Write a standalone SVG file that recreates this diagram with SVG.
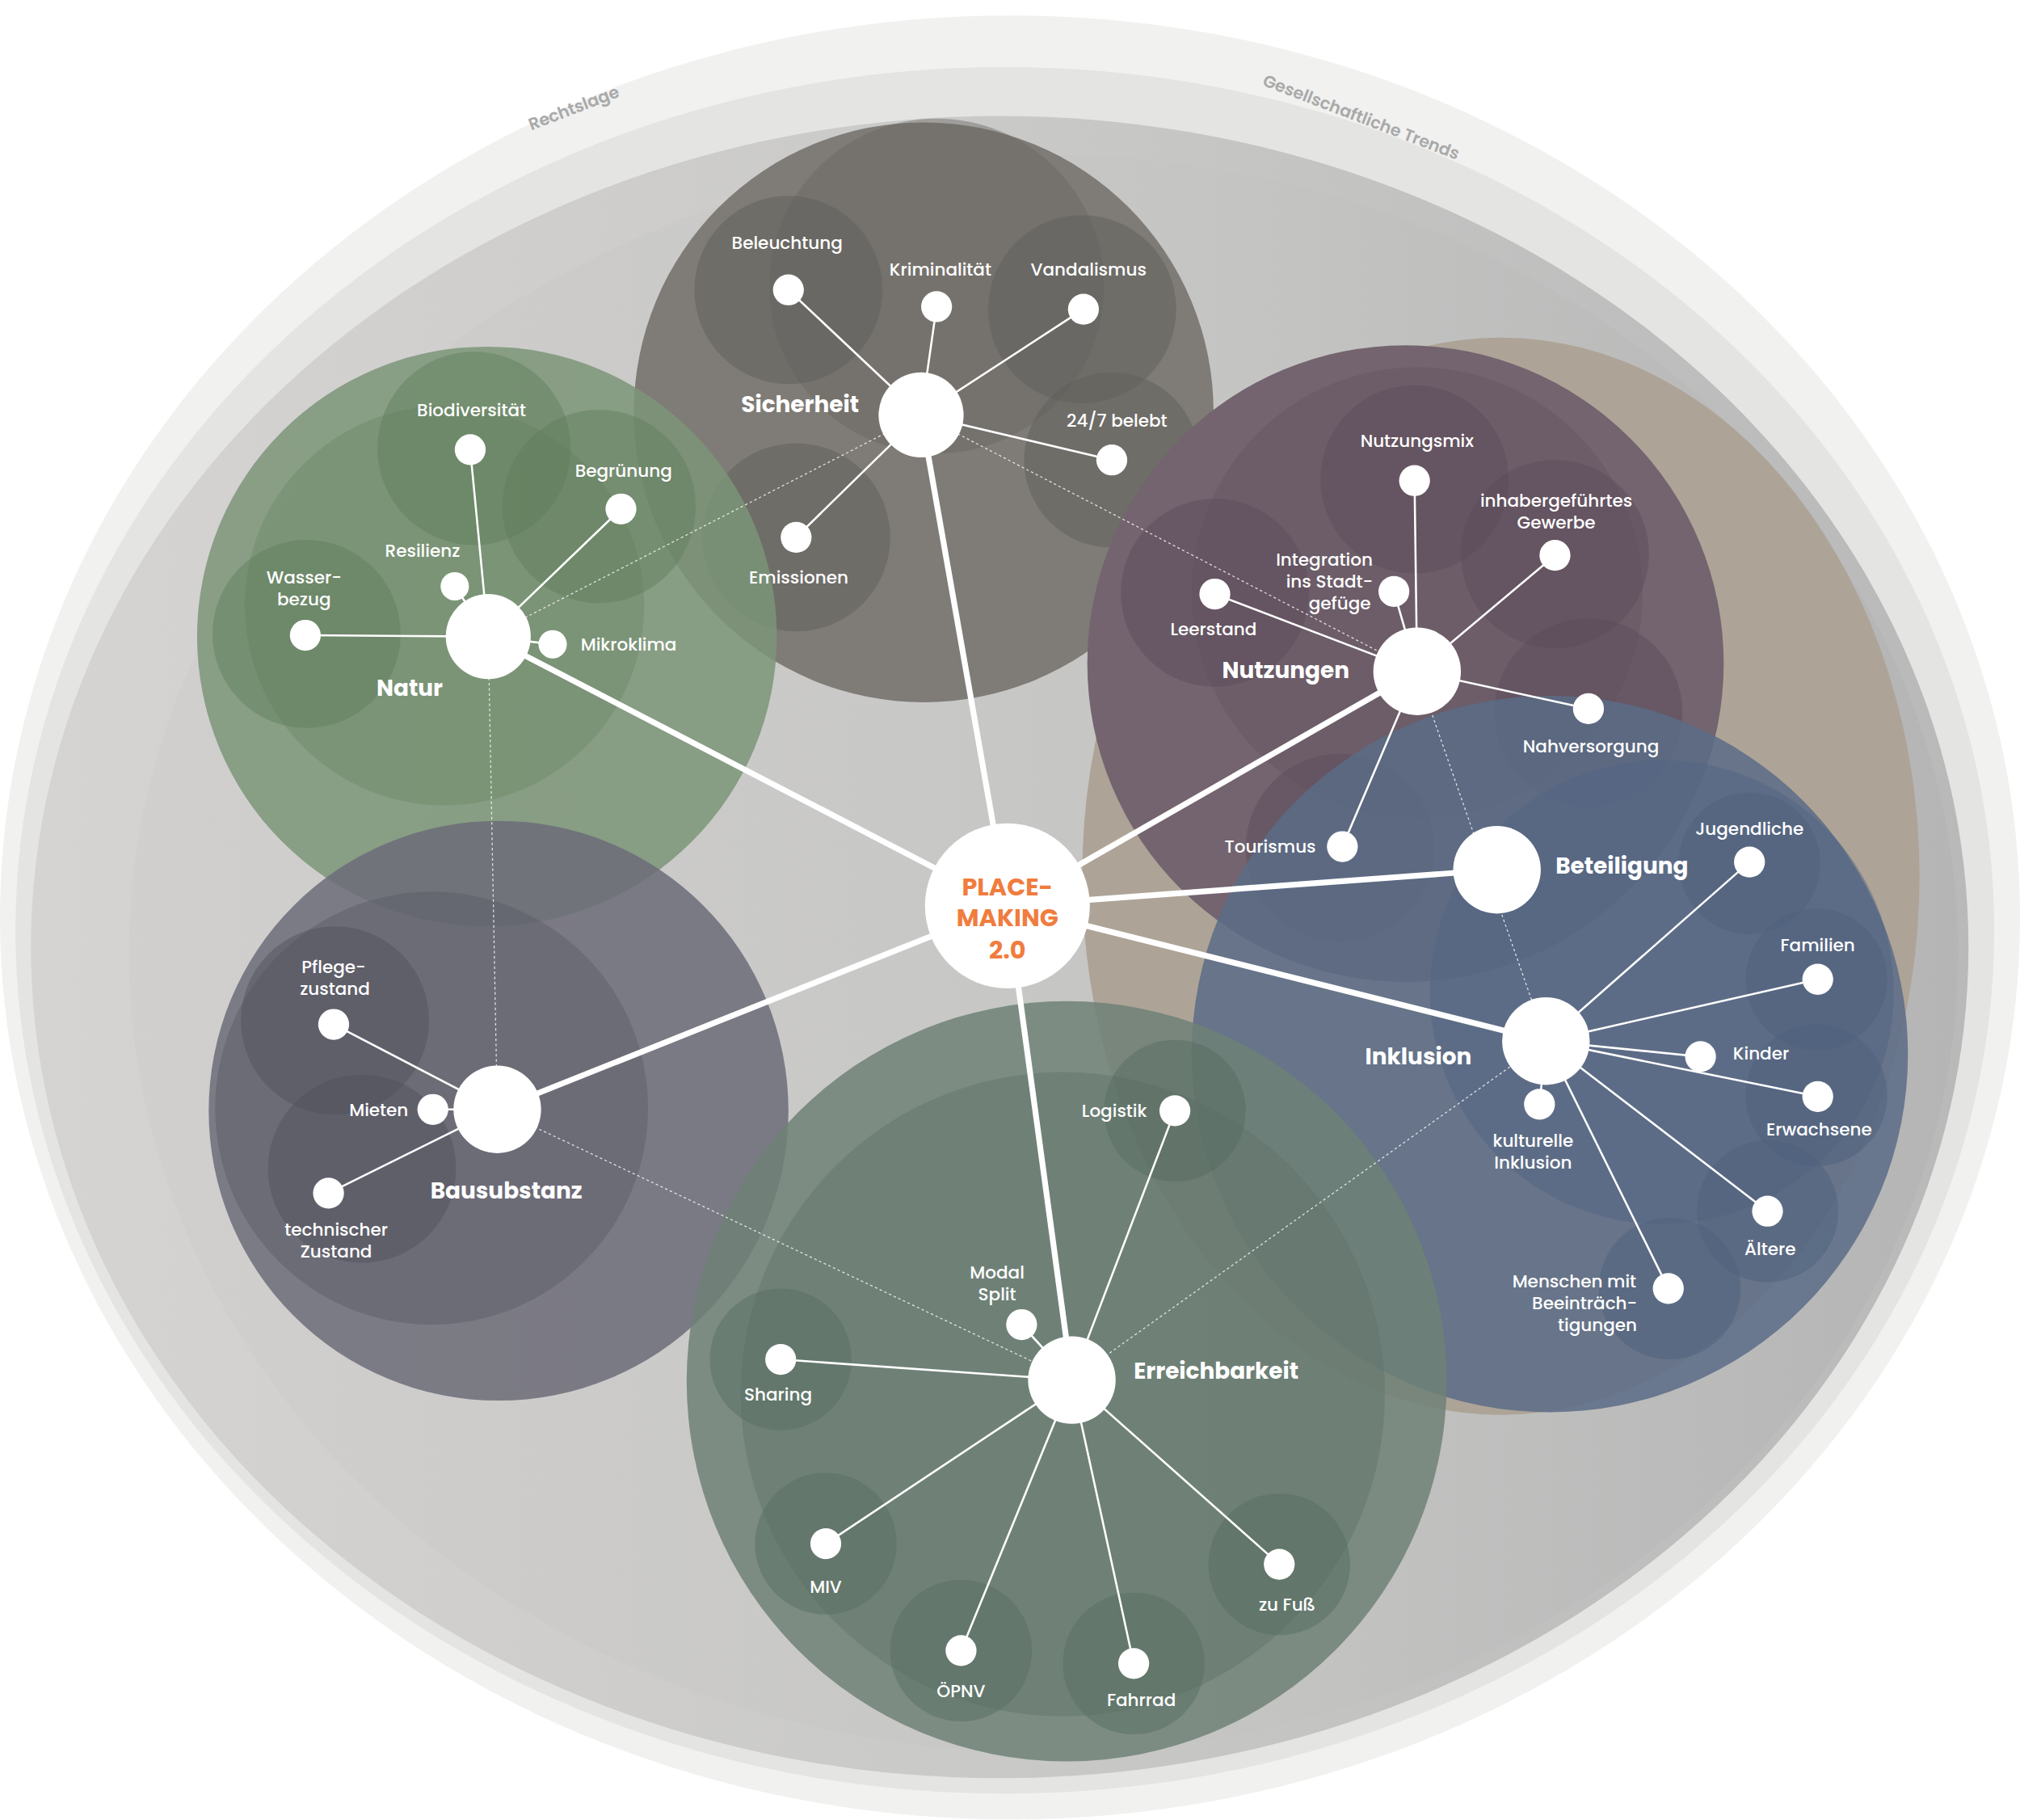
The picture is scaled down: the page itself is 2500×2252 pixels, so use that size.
<svg xmlns="http://www.w3.org/2000/svg" width="2500" height="2252" viewBox="0 0 2500 2252">
<defs>
<linearGradient id="bg" x1="0" x2="1" y1="0" y2="0"><stop offset="0" stop-color="#d6d4d3"/><stop offset="0.5" stop-color="#c9c9c8"/><stop offset="1" stop-color="#b9b9b9"/></linearGradient>
<linearGradient id="bg2" x1="0" x2="1" y1="0" y2="0"><stop offset="0" stop-color="#cfcecd"/><stop offset="0.6" stop-color="#c4c4c3"/><stop offset="1" stop-color="#b3b3b3"/></linearGradient>
</defs>
<style>
.t{font-family:Poppins,"Open Sans","Liberation Sans",sans-serif;fill:#fff;font-size:13.5px;font-weight:500;text-anchor:middle}
.h{font-family:Poppins,"Open Sans","Liberation Sans",sans-serif;fill:#fff;font-size:17.5px;font-weight:700;text-anchor:middle}
.r{font-family:Poppins,"Open Sans","Liberation Sans",sans-serif;fill:#a9a9a9;font-size:13px;font-weight:600;text-anchor:middle}
.dot{fill:#fff}
.thin{stroke:#fff;stroke-width:1.6;fill:none}
.thick{stroke:#fff;stroke-width:4.5;fill:none}
.dash{stroke:#fff;stroke-width:0.8;stroke-dasharray:2 2;fill:none;opacity:0.8}
.sub{opacity:0.45}
</style>
<rect width="2500" height="2252" fill="#fff"/>
<g transform="scale(1.5944)">
<g id="background">
<ellipse cx="784" cy="712" rx="784" ry="700" fill="#f1f1f0"/>
<ellipse cx="780" cy="722" rx="768" ry="670" fill="#e4e4e3"/>
<ellipse cx="776" cy="735" rx="752" ry="645" fill="url(#bg)"/>
<ellipse cx="810" cy="740" rx="710" ry="620" fill="url(#bg2)" opacity="0.7"/>
<text class="r" transform="translate(447,88) rotate(-21)">Rechtslage</text>
<text class="r" transform="translate(1055,95) rotate(21)">Gesellschaftliche Trends</text>
</g>
<g id="areas">
<ellipse cx="1165" cy="680" rx="325" ry="418" fill="#ada497"/>
<circle cx="717" cy="320" r="225" fill="#7f7b76"/>
<circle cx="727" cy="222" r="130" fill="#6a6863" class="sub"/>
<circle cx="612" cy="225" r="73" fill="#5e5d59" class="sub"/>
<circle cx="840" cy="240" r="73" fill="#5e5d59" class="sub"/>
<circle cx="863" cy="357" r="68" fill="#5e5d59" class="sub"/>
<circle cx="618" cy="417" r="73" fill="#5e5d59" class="sub"/>
<circle cx="378" cy="494" r="225" fill="#7b9578" opacity="0.85"/>
<circle cx="345" cy="470" r="155" fill="#6c8767" class="sub"/>
<circle cx="368" cy="348" r="75" fill="#5f7d5b" class="sub"/>
<circle cx="465" cy="393" r="75" fill="#5f7d5b" class="sub"/>
<circle cx="238" cy="492" r="73" fill="#5f7d5b" class="sub"/>
<circle cx="387" cy="862" r="225" fill="#6c6c78" opacity="0.85"/>
<circle cx="335" cy="860" r="168" fill="#5a5b66" class="sub"/>
<circle cx="260" cy="792" r="73" fill="#4f505b" class="sub"/>
<circle cx="281" cy="907" r="73" fill="#4f505b" class="sub"/>
<circle cx="1091" cy="515" r="247" fill="#74646f"/>
<circle cx="1100" cy="460" r="175" fill="#655461" class="sub"/>
<circle cx="1098" cy="372" r="73" fill="#5b4a58" class="sub"/>
<circle cx="1207" cy="430" r="73" fill="#5b4a58" class="sub"/>
<circle cx="943" cy="460" r="73" fill="#5b4a58" class="sub"/>
<circle cx="1233" cy="553" r="73" fill="#5b4a58" class="sub"/>
<circle cx="1040" cy="658" r="73" fill="#5b4a58" class="sub"/>
<circle cx="1203" cy="818" r="278" fill="#5b6c86" opacity="0.85"/>
<circle cx="1290" cy="770" r="180" fill="#536482" class="sub"/>
<circle cx="1358" cy="670" r="55" fill="#4e5f7c" class="sub"/>
<circle cx="1410" cy="760" r="55" fill="#4e5f7c" class="sub"/>
<circle cx="1410" cy="850" r="55" fill="#4e5f7c" class="sub"/>
<circle cx="1372" cy="940" r="55" fill="#4e5f7c" class="sub"/>
<circle cx="1296" cy="1000" r="55" fill="#4e5f7c" class="sub"/>
<circle cx="828" cy="1072" r="295" fill="#6e8177" opacity="0.85"/>
<circle cx="825" cy="1082" r="250" fill="#5f7468" class="sub"/>
<circle cx="912" cy="862" r="55" fill="#546b5f" class="sub"/>
<circle cx="606" cy="1055" r="55" fill="#546b5f" class="sub"/>
<circle cx="641" cy="1198" r="55" fill="#546b5f" class="sub"/>
<circle cx="746" cy="1281" r="55" fill="#546b5f" class="sub"/>
<circle cx="880" cy="1291" r="55" fill="#546b5f" class="sub"/>
<circle cx="993" cy="1214" r="55" fill="#546b5f" class="sub"/>
</g>
<g id="connectors">
<line class="dash" x1="379" y1="494" x2="715" y2="322"/>
<line class="dash" x1="715" y1="322" x2="1100" y2="521"/>
<line class="dash" x1="379" y1="494" x2="386" y2="861"/>
<line class="dash" x1="386" y1="861" x2="832" y2="1071"/>
<line class="dash" x1="832" y1="1071" x2="1200" y2="808"/>
<line class="dash" x1="1100" y1="521" x2="1200" y2="808"/>
<line class="thick" x1="782" y1="703" x2="715" y2="322"/>
<line class="thick" x1="782" y1="703" x2="379" y2="494"/>
<line class="thick" x1="782" y1="703" x2="386" y2="861"/>
<line class="thick" x1="782" y1="703" x2="1100" y2="521"/>
<line class="thick" x1="782" y1="703" x2="1162" y2="675"/>
<line class="thick" x1="782" y1="703" x2="1200" y2="808"/>
<line class="thick" x1="782" y1="703" x2="832" y2="1071"/>
<path class="thin" d="M715 322L612 225M715 322L727 238M715 322L841 240M715 322L863 357M715 322L618 417"/>
<path class="thin" d="M379 494L365 349M379 494L482 395M379 494L353 455M379 494L237 493M379 494L429 500"/>
<path class="thin" d="M386 861L259 795M386 861L336 861M386 861L255 926"/>
<path class="thin" d="M1100 521L1098 373M1100 521L1207 431M1100 521L1082 459M1100 521L943 461M1100 521L1233 550M1100 521L1042 657"/>
<path class="thin" d="M1200 808L1358 669M1200 808L1411 760M1200 808L1320 820M1200 808L1411 851M1200 808L1372 940M1200 808L1295 1000M1200 808L1195 857"/>
<path class="thin" d="M832 1071L912 862M832 1071L793 1028M832 1071L606 1055M832 1071L641 1198M832 1071L746 1281M832 1071L880 1291M832 1071L993 1214"/>
</g>
<g id="sicherheit">
<circle class="dot" cx="715" cy="322" r="33"/>
<circle class="dot" cx="612" cy="225" r="12"/><circle class="dot" cx="727" cy="238" r="12"/><circle class="dot" cx="841" cy="240" r="12"/><circle class="dot" cx="863" cy="357" r="12"/><circle class="dot" cx="618" cy="417" r="12"/>
<text class="h" x="621" y="320">Sicherheit</text>
<text class="t" x="611" y="193">Beleuchtung</text><text class="t" x="730" y="214">Kriminalität</text><text class="t" x="845" y="214">Vandalismus</text><text class="t" x="867" y="331">24/7 belebt</text><text class="t" x="620" y="453">Emissionen</text>
</g>
<g id="natur">
<circle class="dot" cx="379" cy="494" r="33"/>
<circle class="dot" cx="365" cy="349" r="12"/><circle class="dot" cx="482" cy="395" r="12"/><circle class="dot" cx="353" cy="455" r="11"/><circle class="dot" cx="237" cy="493" r="12"/><circle class="dot" cx="429" cy="500" r="11"/>
<text class="h" x="318" y="540">Natur</text>
<text class="t" x="366" y="323">Biodiversität</text><text class="t" x="484" y="370">Begrünung</text><text class="t" x="328" y="432">Resilienz</text><text class="t" x="236" y="453">Wasser-</text><text class="t" x="236" y="470">bezug</text><text class="t" x="488" y="505">Mikroklima</text>
</g>
<g id="bausubstanz">
<circle class="dot" cx="386" cy="861" r="34"/>
<circle class="dot" cx="259" cy="795" r="12"/><circle class="dot" cx="336" cy="861" r="12"/><circle class="dot" cx="255" cy="926" r="12"/>
<text class="h" x="393" y="930">Bausubstanz</text>
<text class="t" x="259" y="755">Pflege-</text><text class="t" x="260" y="772">zustand</text><text class="t" x="294" y="866">Mieten</text><text class="t" x="261" y="959">technischer</text><text class="t" x="261" y="976">Zustand</text>
</g>
<g id="nutzungen">
<circle class="dot" cx="1100" cy="521" r="34"/>
<circle class="dot" cx="1098" cy="373" r="12"/><circle class="dot" cx="1207" cy="431" r="12"/><circle class="dot" cx="1082" cy="459" r="12"/><circle class="dot" cx="943" cy="461" r="12"/><circle class="dot" cx="1233" cy="550" r="12"/><circle class="dot" cx="1042" cy="657" r="12"/>
<text class="h" x="998" y="526">Nutzungen</text>
<text class="t" x="1100" y="347">Nutzungsmix</text><text class="t" x="1208" y="393">inhabergeführtes</text><text class="t" x="1208" y="410">Gewerbe</text>
<text class="t" x="1028" y="439">Integration</text><text class="t" x="1032" y="456">ins Stadt-</text><text class="t" x="1040" y="473">gefüge</text>
<text class="t" x="942" y="493">Leerstand</text><text class="t" x="1235" y="584">Nahversorgung</text><text class="t" x="986" y="662">Tourismus</text>
</g>
<g id="beteiligung">
<circle class="dot" cx="1162" cy="675" r="34"/>
<text class="h" x="1259" y="678">Beteiligung</text>
</g>
<g id="inklusion">
<circle class="dot" cx="1200" cy="808" r="34"/>
<circle class="dot" cx="1358" cy="669" r="12"/><circle class="dot" cx="1411" cy="760" r="12"/><circle class="dot" cx="1320" cy="820" r="12"/><circle class="dot" cx="1411" cy="851" r="12"/><circle class="dot" cx="1372" cy="940" r="12"/><circle class="dot" cx="1295" cy="1000" r="12"/><circle class="dot" cx="1195" cy="857" r="12"/>
<text class="h" x="1101" y="826">Inklusion</text>
<text class="t" x="1358" y="648">Jugendliche</text><text class="t" x="1411" y="738">Familien</text><text class="t" x="1367" y="822">Kinder</text><text class="t" x="1412" y="881">Erwachsene</text><text class="t" x="1374" y="974">Ältere</text>
<text class="t" x="1222" y="999">Menschen mit</text><text class="t" x="1230" y="1016">Beeinträch-</text><text class="t" x="1240" y="1033">tigungen</text>
<text class="t" x="1190" y="890">kulturelle</text><text class="t" x="1190" y="907">Inklusion</text>
</g>
<g id="erreichbarkeit">
<circle class="dot" cx="832" cy="1071" r="34"/>
<circle class="dot" cx="912" cy="862" r="12"/><circle class="dot" cx="793" cy="1028" r="12"/><circle class="dot" cx="606" cy="1055" r="12"/><circle class="dot" cx="641" cy="1198" r="12"/><circle class="dot" cx="746" cy="1281" r="12"/><circle class="dot" cx="880" cy="1291" r="12"/><circle class="dot" cx="993" cy="1214" r="12"/>
<text class="h" x="944" y="1070">Erreichbarkeit</text>
<text class="t" x="865" y="867">Logistik</text><text class="t" x="774" y="992">Modal</text><text class="t" x="774" y="1009">Split</text><text class="t" x="604" y="1087">Sharing</text><text class="t" x="641" y="1236">MIV</text><text class="t" x="746" y="1317">ÖPNV</text><text class="t" x="886" y="1324">Fahrrad</text><text class="t" x="999" y="1250">zu Fuß</text>
</g>
<g id="center">
<circle cx="782" cy="703" r="64" fill="#fff"/>
<text x="782" y="695" style="font-family:Poppins,'Open Sans','Liberation Sans',sans-serif;font-weight:700;font-size:19px;fill:#f07c3e;text-anchor:middle">PLACE-</text>
<text x="782" y="719" style="font-family:Poppins,'Open Sans','Liberation Sans',sans-serif;font-weight:700;font-size:19px;fill:#f07c3e;text-anchor:middle">MAKING</text>
<text x="782" y="744" style="font-family:Poppins,'Open Sans','Liberation Sans',sans-serif;font-weight:700;font-size:19px;fill:#f07c3e;text-anchor:middle">2.0</text>
</g>
</g>
</svg>
